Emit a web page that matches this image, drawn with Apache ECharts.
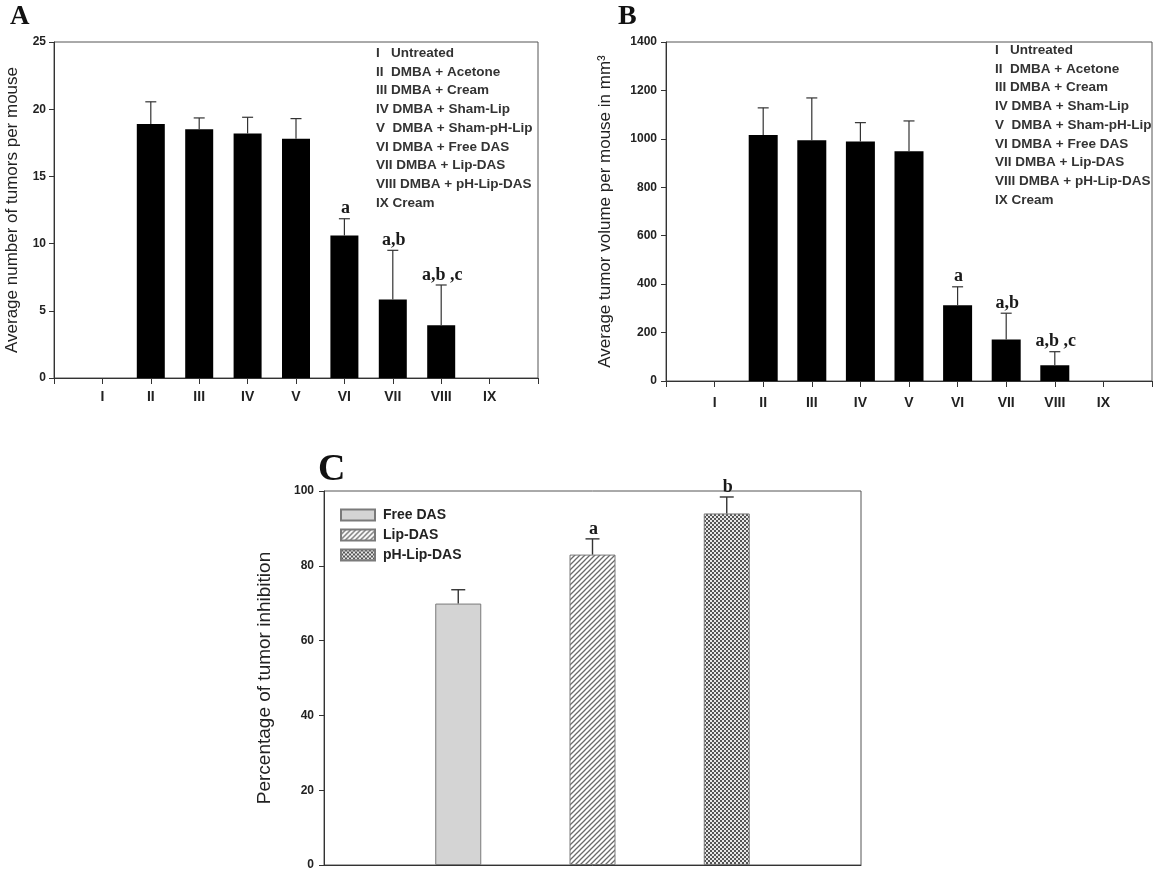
<!DOCTYPE html>
<html>
<head>
<meta charset="utf-8">
<script src="https://cdn.jsdelivr.net/npm/echarts@6/dist/echarts.min.js"></script>
<style>
html,body{margin:0;padding:0;background:#fff;}
#chart{width:1156px;height:872px;}
</style>
</head>
<body>
<div id="chart"></div>
<script>
// ---------- data ----------
const groupCodes = ['I','II','III','IV','V','VI','VII','VIII','IX'];
const groupNames = ['I   Untreated','II  DMBA + Acetone','III DMBA + Cream','IV DMBA + Sham-Lip','V  DMBA + Sham-pH-Lip','VI DMBA + Free DAS','VII DMBA + Lip-DAS','VIII DMBA + pH-Lip-DAS','IX Cream'];
const tumorCount    = [0, 18.9, 18.5, 18.2, 17.8, 10.6, 5.85, 3.92, 0];
const tumorCountErr = [0, 1.65, 0.85, 1.2, 1.5, 1.25, 3.65, 3.0, 0];
const tumorVolume    = [0, 1016, 994, 989, 949, 313, 171, 65, 0];
const tumorVolumeErr = [0, 112, 175, 78, 125, 76, 109, 56, 0];
const sigAB = ['', '', '', '', '', 'a', 'a,b', 'a,b ,c', ''];
const formulations = ['Free DAS', 'Lip-DAS', 'pH-Lip-DAS'];
const inhibition    = [69.9, 83.0, 94.0];
const inhibitionErr = [3.7, 4.2, 4.4];
const sigC = ['', 'a', 'b'];
const ticksCount  = [0, 5, 10, 15, 20, 25];
const ticksVolume = [0, 200, 400, 600, 800, 1000, 1200, 1400];
const ticksInhib  = [0, 20, 40, 60, 80, 100];

// ---------- helpers ----------
const SANS = '"Liberation Sans", Arial, sans-serif';
const SERIF = '"Liberation Serif", "Times New Roman", serif';

function hatchPattern() {
  const c = document.createElement('canvas'); c.width = 5; c.height = 5;
  const g = c.getContext('2d');
  g.fillStyle = '#ffffff'; g.fillRect(0, 0, 5, 5);
  g.strokeStyle = '#6a6a6a'; g.lineWidth = 1.3;
  g.beginPath();
  g.moveTo(-1, 6); g.lineTo(6, -1);
  g.moveTo(-1, 1); g.lineTo(1, -1);
  g.moveTo(4, 6); g.lineTo(6, 4);
  g.stroke();
  return c;
}
function checkerPattern() {
  const c = document.createElement('canvas'); c.width = 4; c.height = 4;
  const g = c.getContext('2d');
  g.fillStyle = '#e8e8e8'; g.fillRect(0, 0, 4, 4);
  g.fillStyle = '#555555'; g.fillRect(0, 0, 2, 2); g.fillRect(2, 2, 2, 2);
  return c;
}

// padded category list (blank ends so ticks sit at both frame edges)
const catsAB = [''].concat(groupCodes, ['']);
const catsC = [''].concat(formulations, ['']);

function padded(vals) { return ['-'].concat(vals, ['-']); }

function errData(vals, errs, labels) {
  const d = [], l = [];
  vals.forEach((v, i) => {
    if (errs[i] > 0) { d.push([i + 1, v, v + errs[i]]); l.push(labels[i]); }
  });
  return { d, l };
}

function errRender(labels, capW, lw, fontSize) {
  return function (params, api) {
    const x = api.value(0);
    const base = api.coord([x, api.value(1)]);
    const top = api.coord([x, api.value(2)]);
    const h = capW / 2;
    const st = { stroke: '#333', lineWidth: lw };
    const ch = [
      { type: 'line', shape: { x1: top[0], y1: base[1], x2: top[0], y2: top[1] }, style: st },
      { type: 'line', shape: { x1: top[0] - h, y1: top[1], x2: top[0] + h, y2: top[1] }, style: st }
    ];
    const lab = labels[params.dataIndex];
    if (lab) {
      ch.push({ type: 'text', x: top[0] + 1, y: top[1] - 1,
        style: { text: lab, align: 'center', verticalAlign: 'bottom',
          font: 'bold ' + fontSize + 'px ' + SERIF, fill: '#1a1a1a' } });
    }
    return { type: 'group', children: ch };
  };
}

function yAxisCfg(gi, ticks, name, gap, nameSize, labelMargin) {
  return {
    type: 'value', gridIndex: gi, min: ticks[0], max: ticks[ticks.length - 1],
    interval: ticks[1] - ticks[0],
    name: name, nameLocation: 'middle', nameRotate: 90, nameGap: gap,
    nameTextStyle: { fontFamily: SANS, fontSize: nameSize, color: '#222' },
    axisLine: { show: true, lineStyle: { color: '#333', width: 1 } },
    axisTick: { show: true, inside: false, length: 5, lineStyle: { color: '#333' } },
    axisLabel: { fontFamily: SANS, fontSize: 12, fontWeight: 'bold', color: '#222', margin: labelMargin,
      formatter: v => String(v) },
    splitLine: { show: false }
  };
}
function xAxisCfg(gi, cats, showLabels, labelMargin) {
  return {
    type: 'category', gridIndex: gi, data: cats, boundaryGap: false,
    axisLine: { show: true, lineStyle: { color: '#333', width: 1 } },
    axisTick: { show: showLabels, inside: false, length: 6, interval: 0, lineStyle: { color: '#333' } },
    axisLabel: { show: showLabels, interval: 0, fontFamily: SANS, fontSize: 14, fontWeight: 'bold', color: '#222', margin: labelMargin },
    splitLine: { show: false }
  };
}

const eA = errData(tumorCount, tumorCountErr, sigAB);
const eB = errData(tumorVolume, tumorVolumeErr, sigAB);
const eC = errData(inhibition, inhibitionErr, sigC);

const cColors = [
  '#d4d4d4',
  { image: hatchPattern(), repeat: 'repeat' },
  { image: checkerPattern(), repeat: 'repeat' }
];
const cSeries = formulations.map((name, k) => {
  const vals = formulations.map((_, j) => (j === k ? inhibition[j] : '-'));
  return {
    type: 'bar', name: name, xAxisIndex: 2, yAxisIndex: 2,
    data: padded(vals), barWidth: 46, barGap: '-100%',
    itemStyle: { color: cColors[k], borderColor: '#7a7a7a', borderWidth: 1 },
    z: 2
  };
});

const gridBase = { show: true, borderColor: '#555', borderWidth: 1, backgroundColor: 'transparent', containLabel: false, outerBoundsMode: 'none' };
const legendText = { fontFamily: SANS, fontSize: 13.5, fontWeight: 'bold', color: '#333', lineHeight: 18.7 };

const option = {
  animation: false,
  backgroundColor: '#fff',
  title: [
    { text: 'A', left: 5, top: -1, textStyle: { fontFamily: SERIF, fontSize: 27, fontWeight: 'bold', color: '#111' } },
    { text: 'B', left: 613, top: -2, textStyle: { fontFamily: SERIF, fontSize: 28, fontWeight: 'bold', color: '#111' } },
    { text: 'C', left: 313, top: 446, textStyle: { fontFamily: SERIF, fontSize: 38, fontWeight: 'bold', color: '#111' } },
    { text: groupNames.join('\n'), left: 376, top: 44, padding: 0, textStyle: legendText },
    { text: groupNames.join('\n'), left: 995, top: 41, padding: 0, textStyle: legendText }
  ],
  legend: {
    data: formulations, orient: 'vertical', left: 340, top: 508, padding: 0,
    itemWidth: 34, itemHeight: 11, itemGap: 6, icon: 'rect',
    textStyle: { fontFamily: SANS, fontSize: 14, fontWeight: 'bold', color: '#222', padding: [0, 0, 0, 3] }
  },
  grid: [
    Object.assign({ left: 54, top: 42, width: 484, height: 336 }, gridBase),
    Object.assign({ left: 666, top: 42, width: 486, height: 339 }, gridBase),
    Object.assign({ left: 324, top: 491, width: 537, height: 374 }, gridBase)
  ],
  xAxis: [
    xAxisCfg(0, catsAB, true, 12),
    xAxisCfg(1, catsAB, true, 15),
    xAxisCfg(2, catsC, false, 8)
  ],
  yAxis: [
    yAxisCfg(0, ticksCount, 'Average number of tumors per mouse', 33, 17, 8),
    yAxisCfg(1, ticksVolume, 'Average tumor volume per mouse in mm\u00B3', 52, 17, 9),
    yAxisCfg(2, ticksInhib, 'Percentage of tumor inhibition', 50, 19, 10)
  ],
  series: [
    { type: 'bar', xAxisIndex: 0, yAxisIndex: 0, data: padded(tumorCount), barWidth: 28,
      itemStyle: { color: '#000' }, z: 2 },
    { type: 'custom', xAxisIndex: 0, yAxisIndex: 0, data: eA.d, renderItem: errRender(eA.l, 11, 1.2, 18), z: 3 },
    { type: 'bar', xAxisIndex: 1, yAxisIndex: 1, data: padded(tumorVolume), barWidth: 29,
      itemStyle: { color: '#000' }, z: 2 },
    { type: 'custom', xAxisIndex: 1, yAxisIndex: 1, data: eB.d, renderItem: errRender(eB.l, 11, 1.2, 18), z: 3 },
  ].concat(cSeries, [
    { type: 'custom', xAxisIndex: 2, yAxisIndex: 2, data: eC.d, renderItem: errRender(eC.l, 14, 1.4, 18), z: 3 }
  ])
};

const chart = echarts.init(document.getElementById('chart'), null, { renderer: 'canvas' });
chart.setOption(option);
</script>
</body>
</html>
